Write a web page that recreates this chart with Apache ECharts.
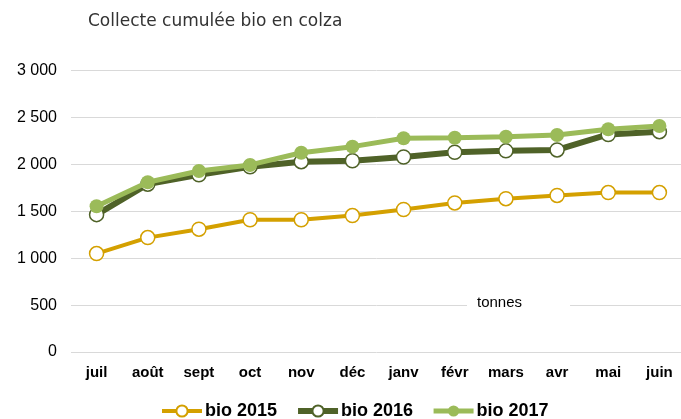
<!DOCTYPE html>
<html>
<head>
<meta charset="utf-8">
<script src="https://cdn.jsdelivr.net/npm/echarts@6/dist/echarts.min.js"></script>
<style>
  html, body { margin: 0; padding: 0; background: #fff; }
  #chart { width: 681px; height: 419px; }
</style>
</head>
<body>
<div id="chart"></div>
<script>
const months = ['juil', 'août', 'sept', 'oct', 'nov', 'déc', 'janv', 'févr', 'mars', 'avr', 'mai', 'juin'];
const bio2015 = [1050, 1220, 1310, 1410, 1410, 1455, 1520, 1590, 1635, 1670, 1700, 1700];
const bio2016 = [1465, 1790, 1890, 1975, 2030, 2040, 2080, 2130, 2145, 2155, 2320, 2350];
const bio2017 = [1555, 1810, 1930, 1995, 2125, 2190, 2280, 2285, 2295, 2315, 2375, 2410];
const yTicks = { min: 0, max: 3000, interval: 500 };

const gold = '#d4a000', dark = '#4f6228', light = '#9bbb59';

const chart = echarts.init(document.getElementById('chart'));

// format 3000 -> "3 000"
function fmt(v) {
  return String(v).replace(/\B(?=(\d{3})+(?!\d))/g, ' ');
}

chart.setOption({
  animation: false,
  title: {
    text: 'Collecte cumulée bio en colza',
    left: 83,
    top: 8,
    textStyle: { fontFamily: 'DejaVu Sans', fontSize: 17, fontWeight: 'normal', color: '#333' }
  },
  legend: {
    left: 155,
    top: 397,
    itemWidth: 40,
    itemHeight: 14,
    itemGap: 18,
    textStyle: { fontFamily: 'Liberation Sans', fontSize: 18, fontWeight: 'bold', color: '#000', padding: [0, 0, 0, -2] },
    data: [
      { name: 'bio 2015', lineStyle: { width: 4 } },
      { name: 'bio 2016', lineStyle: { width: 6 } },
      { name: 'bio 2017', lineStyle: { width: 5 } }
    ]
  },
  grid: { left: 71, top: 70.7, width: 614, height: 281.3, containLabel: false, outerBoundsMode: 'none' },
  xAxis: {
    type: 'category',
    data: months,
    axisLine: { show: false },
    axisTick: { show: false },
    axisLabel: { margin: 13, fontFamily: 'Liberation Sans', fontSize: 15, fontWeight: 'bold', color: '#000' }
  },
  yAxis: {
    type: 'value',
    min: yTicks.min,
    max: yTicks.max,
    interval: yTicks.interval,
    axisLine: { show: false },
    axisTick: { show: false },
    splitLine: { lineStyle: { color: '#d9d9d9', width: 1 } },
    axisLabel: { margin: 14, fontFamily: 'Liberation Sans', fontSize: 16, color: '#000', formatter: fmt }
  },
  graphic: [{
    type: 'text',
    left: 467,
    top: 293,
    style: {
      text: 'tonnes',
      font: '15px "Liberation Sans"',
      fill: '#000',
      backgroundColor: '#fff',
      padding: [2, 48, 2, 10]
    },
    z: 10
  }],
  series: [
    {
      name: 'bio 2015',
      type: 'line',
      data: bio2015,
      symbol: 'circle',
      symbolSize: 14,
      lineStyle: { color: gold, width: 4 },
      itemStyle: { color: '#fff', borderColor: gold, borderWidth: 1.5 },
      z: 2
    },
    {
      name: 'bio 2016',
      type: 'line',
      data: bio2016,
      symbol: 'circle',
      symbolSize: 14,
      lineStyle: { color: dark, width: 6 },
      itemStyle: { color: '#fff', borderColor: dark, borderWidth: 1.5 },
      z: 3
    },
    {
      name: 'bio 2017',
      type: 'line',
      data: bio2017,
      symbol: 'circle',
      symbolSize: 14,
      lineStyle: { color: light, width: 5 },
      itemStyle: { color: light, borderColor: light, borderWidth: 0 },
      z: 4
    }
  ]
});
</script>
</body>
</html>
